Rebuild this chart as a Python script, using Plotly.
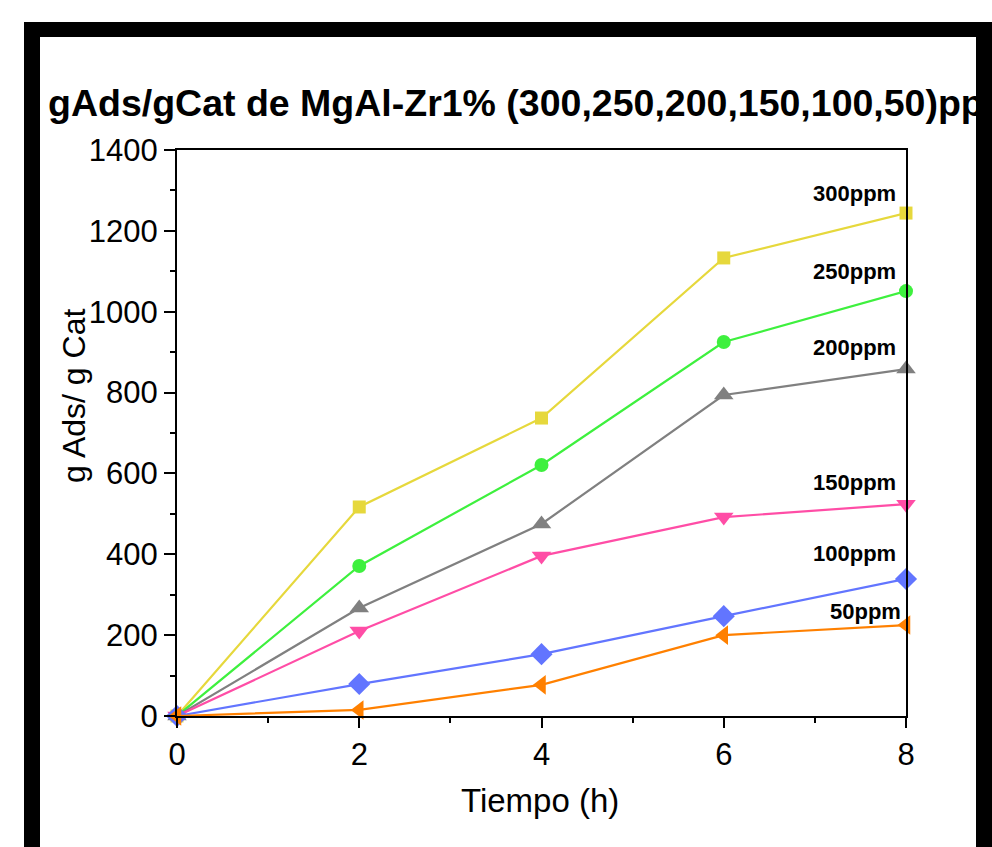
import plotly.graph_objects as go

# ---- data ----
tiempo_h = [0, 2, 4, 6, 8]
series_names = ["300ppm", "250ppm", "200ppm", "150ppm", "100ppm", "50ppm"]
ads_300 = [0, 517, 737, 1133, 1244]
ads_250 = [0, 371, 621, 925, 1051]
ads_200 = [0, 267, 475, 794, 858]
ads_150 = [0, 210, 396, 492, 524]
ads_100 = [0, 79, 153, 247, 339]
ads_50 = [0, 15, 77, 200, 225]
y_ticks = [0, 200, 400, 600, 800, 1000, 1200, 1400]
x_ticks = [0, 2, 4, 6, 8]

values = [ads_300, ads_250, ads_200, ads_150, ads_100, ads_50]
colors = ["#E6D83C", "#3EF03E", "#808080", "#FF4DA6", "#6275FF", "#FF8000"]
symbols = ["square", "circle", "triangle-up", "triangle-down", "diamond", "triangle-left"]
msizes = [13, 14, 17, 17, 17, 17]
label_shift = [(-8, 20), (-8, 20), (-8, 22), (-8, 22), (-8, 25), (-3, 14)]

W, H = 992, 847
L, R, T, B = 177, 906, 150, 716

fig = go.Figure()
for name, v, c, s, ms in zip(series_names, values, colors, symbols, msizes):
    fig.add_trace(go.Scatter(
        x=tiempo_h, y=v, mode="lines+markers", name=name,
        line=dict(color=c, width=2.2),
        marker=dict(symbol=s, size=ms, color=c, line=dict(width=0)),
        cliponaxis=False,
    ))

annotations = []
for name, v, (dx, dy) in zip(series_names, values, label_shift):
    annotations.append(dict(
        x=tiempo_h[-1], y=v[-1], xref="x", yref="y", text=f"<b>{name}</b>",
        showarrow=False, xanchor="right", yanchor="middle", xshift=dx, yshift=dy,
        font=dict(family="Liberation Sans, Arial", size=22, color="black"),
    ))

pw, ph = R - L, B - T
def px(xp):
    return (xp - L) / pw
def py(yp):
    return (B - yp) / ph

annotations.append(dict(
    x=px(74), y=py(396), xref="paper", yref="paper", text="g Ads/ g Cat",
    textangle=-90, showarrow=False, xanchor="center", yanchor="middle",
    font=dict(family="Liberation Sans, Arial", size=32, color="black"),
))
annotations.append(dict(
    x=px(540), y=py(800), xref="paper", yref="paper", text="Tiempo (h)",
    showarrow=False, xanchor="center", yanchor="middle",
    font=dict(family="Liberation Sans, Arial", size=33, color="black"),
))

# black frame bands
shapes = []
for (x0, y0, x1, y1) in [(24, 22, 992, 37), (24, 22, 40, 900), (976, 22, 992, 900)]:
    shapes.append(dict(type="rect", xref="paper", yref="paper",
                       x0=px(x0), x1=px(x1), y0=py(y1), y1=py(y0),
                       fillcolor="black", line=dict(width=0), layer="below"))

fig.update_layout(
    width=W, height=H,
    margin=dict(l=L, r=W - R, t=T, b=H - B, pad=0),
    paper_bgcolor="white", plot_bgcolor="white",
    showlegend=False,
    title=dict(
        text="<b>gAds/gCat de MgAl-Zr1% (300,250,200,150,100,50)ppm</b>",
        xref="container", yref="container", x=48 / W, xanchor="left",
        y=1 - 103 / H, yanchor="middle",
        font=dict(family="Liberation Sans, Arial", size=37.5, color="black"),
    ),
    annotations=annotations,
    shapes=shapes,
)

fig.update_xaxes(
    range=[0, 8], tickvals=x_ticks, showgrid=False, zeroline=False,
    showline=True, linecolor="black", linewidth=2, mirror=True,
    ticks="outside", ticklen=10, tickwidth=2, tickcolor="black",
    minor=dict(dtick=1, ticks="outside", ticklen=5, tickwidth=2, tickcolor="black"),
    tickfont=dict(family="Liberation Sans, Arial", size=31, color="black"),
)
fig.update_yaxes(
    range=[0, 1400], tickvals=y_ticks, showgrid=False, zeroline=False,
    showline=True, linecolor="black", linewidth=2, mirror=True,
    ticks="outside", ticklen=11, tickwidth=2, tickcolor="black",
    minor=dict(dtick=100, ticks="outside", ticklen=5, tickwidth=2, tickcolor="black"),
    tickfont=dict(family="Liberation Sans, Arial", size=31, color="black"),
)

fig.write_html("out.html")
